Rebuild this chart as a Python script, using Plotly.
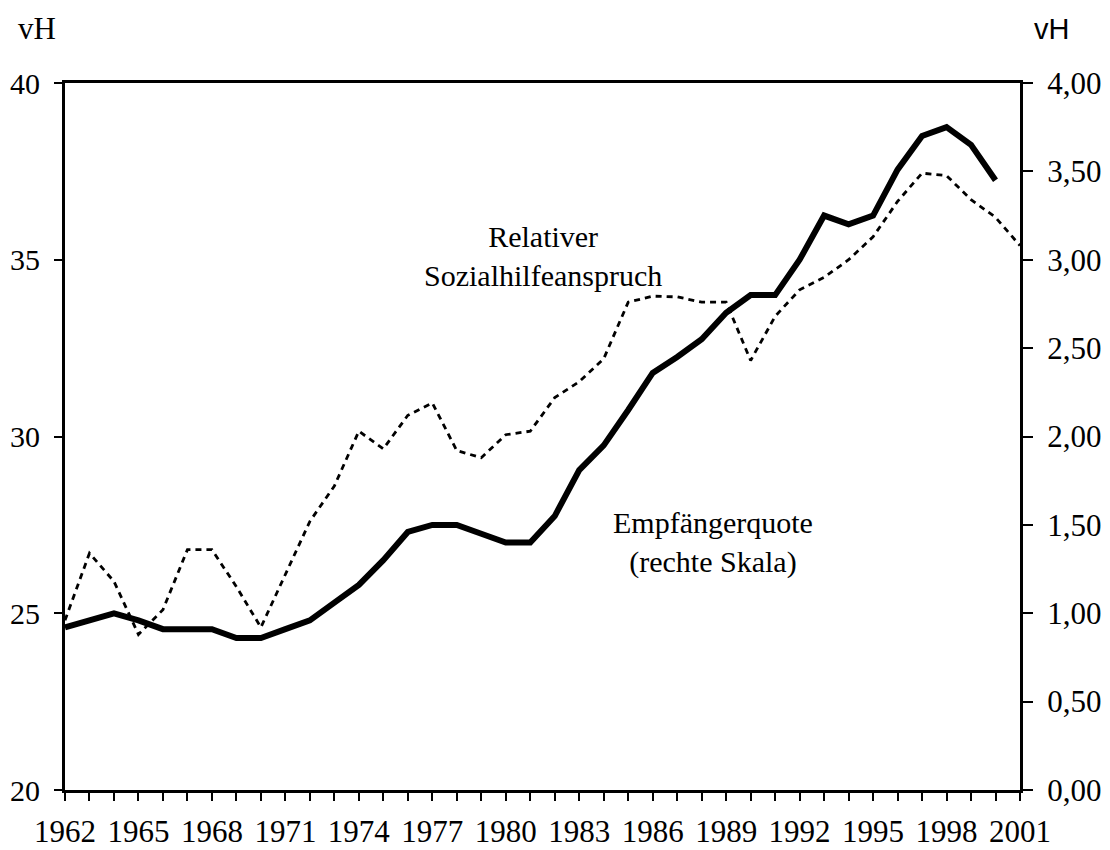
import plotly.graph_objects as go

# Jahre
jahre = list(range(1962, 2002))

# Relativer Sozialhilfeanspruch (linke Skala, vH)
anspruch = [24.8, 26.7, 25.9, 24.4, 25.1, 26.8, 26.8, 25.75, 24.6, 26.1,
            27.6, 28.6, 30.15, 29.65, 30.6, 30.95, 29.6, 29.4, 30.05, 30.15,
            31.1, 31.55, 32.2, 33.8, 33.97, 33.95, 33.8, 33.8, 32.15, 33.4,
            34.15, 34.5, 35.0, 35.65, 36.65, 37.45, 37.38, 36.7, 36.2, 35.4]

# Empfängerquote (rechte Skala, vH)
quote = [0.92, 0.96, 1.00, 0.96, 0.91, 0.91, 0.91, 0.86, 0.86, 0.91,
         0.96, 1.06, 1.16, 1.30, 1.46, 1.50, 1.50, 1.45, 1.40, 1.40,
         1.55, 1.81, 1.95, 2.15, 2.36, 2.45, 2.55, 2.70, 2.80, 2.80,
         3.00, 3.25, 3.20, 3.25, 3.51, 3.70, 3.75, 3.65, 3.45, None]

x_labels = jahre[::3]

serif = "Liberation Serif, Times New Roman, serif"

fig = go.Figure()

# Anspruch: gestrichelt
fig.add_trace(go.Scatter(
    x=jahre, y=anspruch, mode='lines', yaxis='y',
    line=dict(color='black', width=2.8, dash='6px,5px'),
    showlegend=False
))

# Quote: dicke Linie
fig.add_trace(go.Scatter(
    x=jahre, y=quote, mode='lines', yaxis='y2',
    line=dict(color='black', width=6),
    showlegend=False
))

# Seite hat 8px Rand -> Figur etwas kleiner
fig.update_layout(
    width=1100, height=840,
    margin=dict(l=57, r=88, t=75, b=58),
    paper_bgcolor='white', plot_bgcolor='white',
    separators=',.',
    font=dict(family=serif, color='black', size=28),
    xaxis=dict(
        range=[1962, 2001], tickvals=x_labels,
        ticktext=[str(j) for j in x_labels],
        ticks='outside', ticklen=8, tickwidth=2, tickcolor='black',
        minor=dict(dtick=1, tick0=1962, ticks='outside', ticklen=8,
                   tickwidth=2, tickcolor='black'),
        showline=True, linecolor='black', linewidth=3, mirror=True,
        showgrid=False, zeroline=False, automargin=False,
        tickfont=dict(family=serif, size=31), ticklabelstandoff=4
    ),
    yaxis=dict(
        range=[20, 40], dtick=5, tick0=20,
        ticks='outside', ticklen=8, tickwidth=2, tickcolor='black',
        showline=True, linecolor='black', linewidth=3,
        showgrid=False, zeroline=False, automargin=False,
        tickfont=dict(family=serif, size=30), ticklabelstandoff=8
    ),
    yaxis2=dict(
        range=[0, 4], dtick=0.5, tick0=0, tickformat='.2f',
        overlaying='y', side='right',
        ticks='outside', ticklen=10, tickwidth=2, tickcolor='black',
        showline=True, linecolor='black', linewidth=3,
        showgrid=False, zeroline=False, automargin=False,
        tickfont=dict(family=serif, size=31), ticklabelstandoff=8
    ),
    annotations=[
        dict(text='Relativer<br>Sozialhilfeanspruch', x=1981.5, y=35.1,
             xref='x', yref='y', showarrow=False,
             font=dict(family=serif, size=30)),
        dict(text='Empfängerquote<br>(rechte Skala)', x=1988.45, y=27.0,
             xref='x', yref='y', showarrow=False,
             font=dict(family=serif, size=30)),
        dict(text='vH', x=-0.029, y=1.0764, xref='paper', yref='paper',
             xanchor='center', yanchor='middle',
             showarrow=False, font=dict(family=serif, size=31)),
        dict(text='vH', x=1.0335, y=1.0764, xref='paper', yref='paper',
             xanchor='center', yanchor='middle', showarrow=False,
             font=dict(family='Liberation Sans, Arial, sans-serif', size=29)),
    ]
)

fig.write_html("out.html")
